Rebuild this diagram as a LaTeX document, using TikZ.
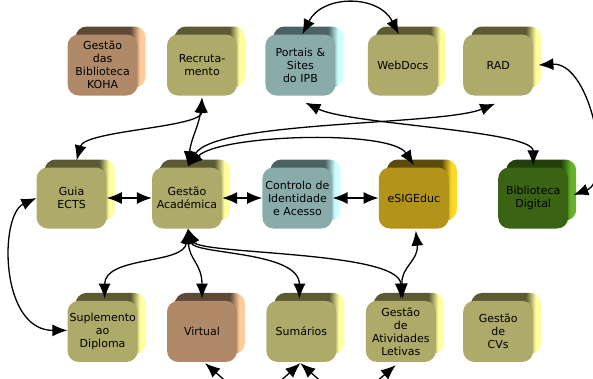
\documentclass[tikz,border=0pt]{standalone}
\usepackage{fontspec}
\setmainfont{DejaVu Sans}
\usetikzlibrary{arrows.meta, positioning}

\definecolor{olivefront}{HTML}{ADAA6A}
\definecolor{olivetop}{HTML}{5C5A33}
\definecolor{oliveside}{HTML}{FFFF9E}
\definecolor{brownfront}{HTML}{B08A68}
\definecolor{browntop}{HTML}{5E4836}
\definecolor{brownside}{HTML}{FFCC99}
\definecolor{tealfront}{HTML}{89ACAB}
\definecolor{tealtop}{HTML}{4A6262}
\definecolor{tealside}{HTML}{CCFFFF}
\definecolor{goldfront}{HTML}{B39419}
\definecolor{goldtop}{HTML}{5C4C0B}
\definecolor{goldside}{HTML}{FFD926}
\definecolor{greenfront}{HTML}{3A6414}
\definecolor{greentop}{HTML}{22400A}
\definecolor{greenside}{HTML}{66B22A}
\colorlet{boxtop}{olivetop}
\colorlet{boxside}{oliveside}

\pgfdeclarehorizontalshading[boxtop,boxside]{boxback}{100bp}{color(0bp)=(boxtop); color(64bp)=(boxtop); color(71bp)=(boxside); color(100bp)=(boxside)}

\tikzstyle{box} = [rectangle,
			rounded corners=11pt,
			minimum width=70pt,
			minimum height=61pt,
			text width=66pt,
			inner sep=2pt,
			align=center,
			text=black,
			font=\fontsize{11}{13}\selectfont,
			preaction={shading=boxback, transform canvas={xshift=8pt, yshift=8pt}}]
\tikzstyle{oliveblock} = [box, fill=olivefront,
			/utils/exec={\colorlet{boxtop}{olivetop}\colorlet{boxside}{oliveside}}]
\tikzstyle{brownblock} = [box, fill=brownfront,
			/utils/exec={\colorlet{boxtop}{browntop}\colorlet{boxside}{brownside}}]
\tikzstyle{tealblock} = [box, fill=tealfront,
			/utils/exec={\colorlet{boxtop}{tealtop}\colorlet{boxside}{tealside}}]
\tikzstyle{goldblock} = [box, fill=goldfront,
			/utils/exec={\colorlet{boxtop}{goldtop}\colorlet{boxside}{goldside}}]
\tikzstyle{greenblock} = [box, fill=greenfront,
			/utils/exec={\colorlet{boxtop}{greentop}\colorlet{boxside}{greenside}}]
\tikzstyle{link} = [line width=1.3pt,
			>={Latex[length=15pt, width=12pt]},
			<->]

\begin{document}
\begin{tikzpicture}[x=1pt, y=1pt]
	\useasboundingbox (0,0) rectangle (593,-378);
	\clip (0,0) rectangle (593,-378);

	\node [oliveblock] (recrutamento) at (202,-65) {Recruta-\\mento};
	\node [brownblock, left=29pt of recrutamento] (koha) {Gestão\\das\\Biblioteca\\KOHA};
	\node [tealblock, right=28pt of recrutamento] (portais) {Portais \&\\Sites\\do IPB};
	\node [oliveblock, right=32pt of portais] (webdocs) {WebDocs};
	\node [oliveblock, right=25pt of webdocs] (rad) {RAD};

	\node [oliveblock] (academica) at (187,-198) {Gestão\\Académica};
	\node [oliveblock, left=45pt of academica] (guia) {Guia\\ECTS};
	\node [tealblock, right=40pt of academica] (controlo) {Controlo de\\Identidade\\e Acesso};
	\node [goldblock, right=46pt of controlo] (esigeduc) {eSIGEduc};
	\node [greenblock, right=49pt of esigeduc] (bibdigital) {Biblioteca\\Digital};

	\node [brownblock, below=205pt of recrutamento] (virtual) {Virtual};
	\node [oliveblock, left=29pt of virtual] (suplemento) {Suplemento\\ao\\Diploma};
	\node [oliveblock, right=29pt of virtual] (sumarios) {Sumários};
	\node [oliveblock, right=29pt of sumarios] (atividades) {Gestão\\de\\Atividades\\Letivas};
	\node [oliveblock, right=27pt of atividades] (cvs) {Gestão\\de\\CVs};

	\coordinate (hiddenleft) at (252,-425);
	\coordinate (hiddenright) at (350,-425);

	\draw [link] ([xshift=2pt]portais.north) .. controls +(20,40) and +(-20,40) .. ([xshift=-4pt]webdocs.north);
	\draw [link] ([yshift=-2pt]recrutamento.south) .. controls +(0,-30) and +(8,30) .. ([xshift=5pt, yshift=7pt]guia.north);
	\draw [link] ([yshift=-2pt]recrutamento.south) .. controls +(-3,-28) and +(3,28) .. ([xshift=1pt, yshift=1pt]academica.north);
	\draw [link] ([xshift=1pt, yshift=1pt]academica.north) .. controls +(27,46) and +(-54,-22) .. ([xshift=-3pt, yshift=-8pt]rad.south);
	\draw [link] ([xshift=1pt, yshift=1pt]academica.north) .. controls +(32,32) and +(-23,36) .. ([yshift=2pt]esigeduc.north);
	\draw [link] ([xshift=5pt, yshift=-7pt]portais.south) .. controls +(45,-22) and +(0,35) .. ([yshift=2pt]bibdigital.north);
	\draw [link] ([xshift=5pt]rad.east) .. controls +(53,3) and +(40,15) .. ([xshift=5pt, yshift=3pt]bibdigital.east);

	\draw [link] (guia) -- (academica);
	\draw [link] (academica) -- (controlo);
	\draw [link] (controlo) -- (esigeduc);

	\draw [link] (guia.west) .. controls +(-37,-17) and +(-68,0) .. ([yshift=1pt]suplemento.west);
	\draw [link] ([xshift=1pt]academica.south) .. controls +(-4,-36) and +(0,43) .. ([xshift=2pt, yshift=2pt]suplemento.north);
	\draw [link] ([xshift=1pt]academica.south) .. controls +(1,-31) and +(0,35) .. ([yshift=2pt]virtual.north);
	\draw [link] ([xshift=1pt]academica.south) .. controls +(6,-26) and +(0,48) .. ([xshift=-2pt, yshift=2pt]sumarios.north);
	\draw [link] ([xshift=1pt]academica.south) .. controls +(11,-26) and +(0,48) .. ([yshift=2pt]atividades.north);
	\draw [link] ([xshift=2pt, yshift=-2pt]esigeduc.south) .. controls +(3,-30) and +(-2,32) .. ([xshift=2pt, yshift=2pt]atividades.north);

	\draw [link, ->] (hiddenleft) .. controls +(-5,25) and +(23,-20) .. ([xshift=3pt, yshift=-1pt]virtual.south);
	\draw [link, ->] (hiddenleft) .. controls +(5,25) and +(-20,-18) .. ([xshift=-1pt, yshift=-1pt]sumarios.south);
	\draw [link, ->] (hiddenright) .. controls +(-5,25) and +(20,-18) .. ([xshift=-1pt, yshift=-1pt]sumarios.south);
	\draw [link, ->] (hiddenright) .. controls +(5,25) and +(-20,-17) .. ([xshift=-5pt, yshift=-3pt]atividades.south);
\end{tikzpicture}
\end{document}
